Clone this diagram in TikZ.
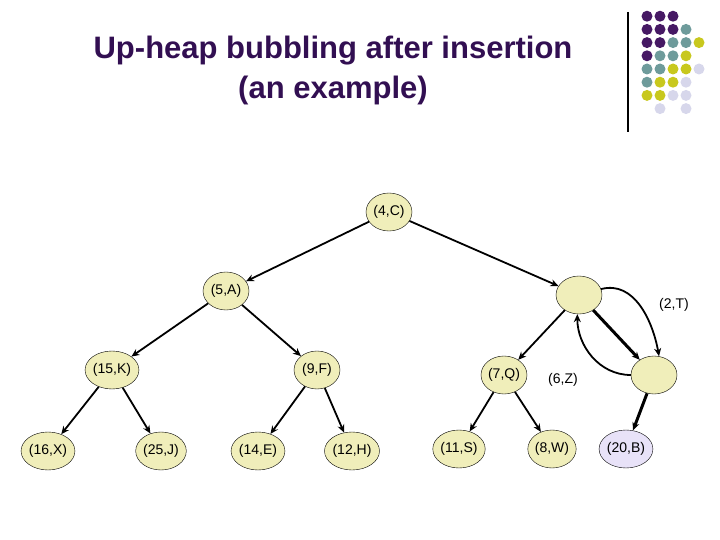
\documentclass[tikz,border=0pt]{standalone}
\usepackage{fontspec}
\setmainfont{Liberation Sans}
\usetikzlibrary{shapes.geometric,arrows.meta}
\definecolor{heapfill}{RGB}{240,238,186}
\definecolor{newfill}{RGB}{232,226,248}
\definecolor{titlecol}{RGB}{50,15,82}
\definecolor{dotP}{RGB}{70,25,100}
\definecolor{dotT}{RGB}{110,155,155}
\definecolor{dotY}{RGB}{200,200,30}
\definecolor{dotL}{RGB}{215,215,235}

\tikzset{
  entry/.style={ellipse,draw,fill=heapfill,minimum width=46pt,
                minimum height=38pt,inner sep=0pt,
                font=\fontsize{14}{16}\selectfont},
  tag/.style={font=\fontsize{14}{16}\selectfont},
  link/.style={line width=1.8pt,->},
  swapped/.style={line width=3pt,->}
}

\begin{document}
\begin{tikzpicture}[x=1pt,y=-1pt,>={Stealth[length=8pt,width=7pt]}]
\useasboundingbox (0,0) rectangle (720,540);
% title and corner decoration
\node[titlecol,font=\fontsize{31}{40}\bfseries\selectfont,align=center]
  (title) at (333,70) {Up-heap bubbling after insertion\\(an example)};
\draw[line width=1.3pt] (628,12) -- (628,132);
\foreach \c/\r/\col in {1/1/dotP,2/1/dotP,3/1/dotP,
                        1/2/dotP,2/2/dotP,3/2/dotP,4/2/dotT,
                        1/3/dotP,2/3/dotP,3/3/dotT,4/3/dotT,5/3/dotY,
                        1/4/dotP,2/4/dotT,3/4/dotT,4/4/dotY,
                        1/5/dotT,2/5/dotT,3/5/dotY,4/5/dotY,5/5/dotL,
                        1/6/dotT,2/6/dotY,3/6/dotY,4/6/dotL,
                        1/7/dotY,2/7/dotY,3/7/dotL,4/7/dotL,
                        2/8/dotL,4/8/dotL}
  \fill[\col] (634+13*\c,3+13.2*\r) circle (5.5pt);

% heap nodes
\node[entry] (c4)  at (389,212) {(4,C)};
\node[entry] (a5)  at (226,291) {(5,A)};
\node[entry] (up)  at (579,295) {};
\node[entry] (k15) at (112,370) {(15,K)};
\node[entry] (f9)  at (317,370) {(9,F)};
\node[entry] (q7)  at (504,375) {(7,Q)};
\node[entry] (low) at (654,375) {};
\node[entry] (x16) at (48,451)  {(16,X)};
\node[entry] (j25) at (161,451) {(25,J)};
\node[entry] (e14) at (258,451) {(14,E)};
\node[entry] (h12) at (352,451) {(12,H)};
\node[entry] (s11) at (459,449) {(11,S)};
\node[entry] (w8)  at (552,449) {(8,W)};
\node[entry,fill=newfill] (b20) at (626,449) {(20,B)};
\node[tag] (t2) at (674,305) {(2,T)};
\node[tag] (z6) at (563,380) {(6,Z)};

% tree edges
\draw[link] (c4) -- (a5);
\draw[link] (c4) -- (up);
\draw[link] (a5) -- (k15);
\draw[link] (a5) -- (f9);
\draw[link] (k15) -- (x16);
\draw[link] (k15) -- (j25);
\draw[link] (f9) -- (e14);
\draw[link] (f9) -- (h12);
\draw[link] (up) -- (q7);
\draw[link] (q7) -- (s11);
\draw[link] (q7) -- (w8);
\draw[swapped] (up) -- (low);
\draw[swapped] (low) -- (b20);

% swap arrows
\draw[link] (up.15) to[out=15,in=100] (low.75);
\draw[link] (low.180) to[out=180,in=-90] (up.-95);
\end{tikzpicture}
\end{document}
